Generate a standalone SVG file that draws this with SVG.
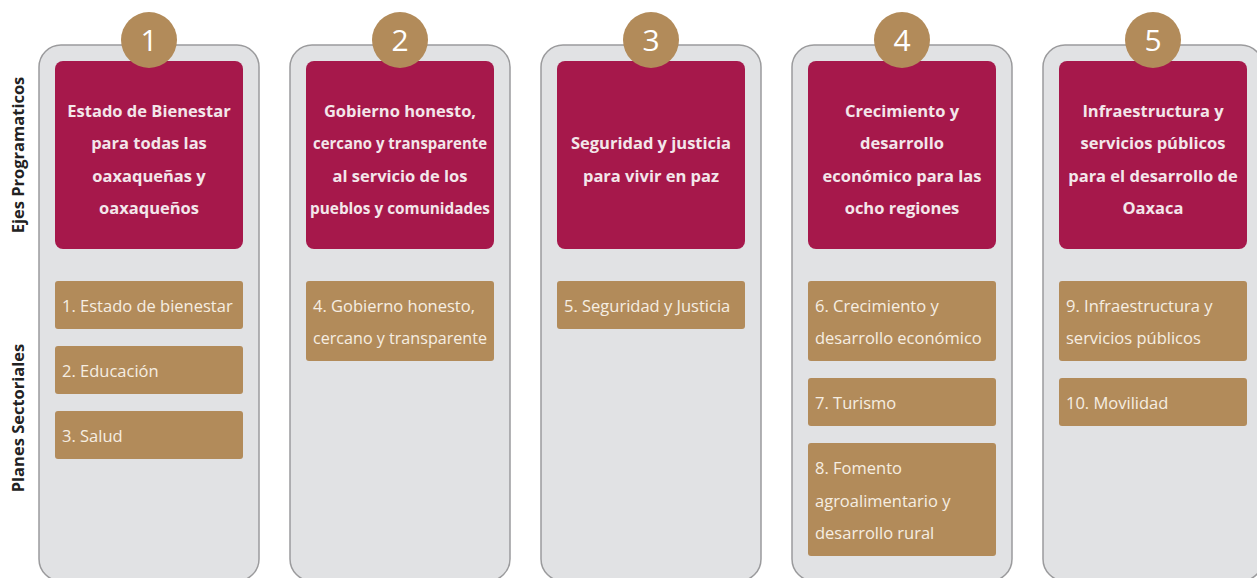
<svg xmlns="http://www.w3.org/2000/svg" width="1257" height="578" viewBox="0 0 1257 578">
<style>
.col{fill:#e1e2e4;stroke:#9b9b9d;stroke-width:1.5}
.eje{fill:#a6184b}
.plan{fill:#b28b5a}
.num{fill:#b28b5a}
.numt{font-family:"Open Sans",sans-serif;font-size:30px;fill:#ffffff;text-anchor:middle}
.et{font-family:"Open Sans",sans-serif;font-weight:bold;font-size:16.5px;fill:#f3e6ea;text-anchor:middle}
.pt{font-family:"Open Sans",sans-serif;font-size:16.5px;fill:#f6eee2}
.side{font-family:"Open Sans",sans-serif;font-weight:bold;font-size:16.5px;fill:#222;text-anchor:middle}
</style>
<rect width="1257" height="578" fill="#ffffff"/>
<g id="labels">
<text class="side" transform="translate(24,155) rotate(-90)">Ejes Programaticos</text>
<text class="side" transform="translate(24,418) rotate(-90)">Planes Sectoriales</text>
</g>
<g id="col1">
<rect class="col" x="39" y="45" width="220" height="536" rx="22"/>
<rect class="eje" x="55" y="61" width="188" height="188" rx="8"/>
<text class="et"><tspan x="149" y="117">Estado de Bienestar</tspan><tspan x="149" y="149">para todas las</tspan><tspan x="149" y="182">oaxaqueñas y</tspan><tspan x="149" y="214">oaxaqueños</tspan></text>
<rect class="plan" x="55" y="281" width="188" height="48" rx="3"/>
<text class="pt" x="62" y="312">1. Estado de bienestar</text>
<rect class="plan" x="55" y="346" width="188" height="48" rx="3"/>
<text class="pt" x="62" y="377">2. Educación</text>
<rect class="plan" x="55" y="411" width="188" height="48" rx="3"/>
<text class="pt" x="62" y="442">3. Salud</text>
<circle class="num" cx="149" cy="40" r="28"/>
<text class="numt" x="149" y="51">1</text>
</g>
<g id="col2">
<rect class="col" x="290" y="45" width="220" height="536" rx="22"/>
<rect class="eje" x="306" y="61" width="188" height="188" rx="8"/>
<text class="et"><tspan x="400" y="117">Gobierno honesto,</tspan><tspan x="400" y="149" textLength="174" lengthAdjust="spacingAndGlyphs">cercano y transparente</tspan><tspan x="400" y="182">al servicio de los</tspan><tspan x="400" y="214" textLength="180" lengthAdjust="spacingAndGlyphs">pueblos y comunidades</tspan></text>
<rect class="plan" x="306" y="281" width="188" height="80" rx="3"/>
<text class="pt"><tspan x="313" y="312">4. Gobierno honesto,</tspan><tspan x="313" y="344" textLength="174" lengthAdjust="spacingAndGlyphs">cercano y transparente</tspan></text>
<circle class="num" cx="400" cy="40" r="28"/>
<text class="numt" x="400" y="51">2</text>
</g>
<g id="col3">
<rect class="col" x="541" y="45" width="220" height="536" rx="22"/>
<rect class="eje" x="557" y="61" width="188" height="188" rx="8"/>
<text class="et"><tspan x="651" y="149">Seguridad y justicia</tspan><tspan x="651" y="182">para vivir en paz</tspan></text>
<rect class="plan" x="557" y="281" width="188" height="48" rx="3"/>
<text class="pt" x="564" y="312">5. Seguridad y Justicia</text>
<circle class="num" cx="651" cy="40" r="28"/>
<text class="numt" x="651" y="51">3</text>
</g>
<g id="col4">
<rect class="col" x="792" y="45" width="220" height="536" rx="22"/>
<rect class="eje" x="808" y="61" width="188" height="188" rx="8"/>
<text class="et"><tspan x="902" y="117">Crecimiento y</tspan><tspan x="902" y="149">desarrollo</tspan><tspan x="902" y="182">económico para las</tspan><tspan x="902" y="214">ocho regiones</tspan></text>
<rect class="plan" x="808" y="281" width="188" height="80" rx="3"/>
<text class="pt"><tspan x="815" y="312">6. Crecimiento y</tspan><tspan x="815" y="344">desarrollo económico</tspan></text>
<rect class="plan" x="808" y="378" width="188" height="48" rx="3"/>
<text class="pt" x="815" y="409">7. Turismo</text>
<rect class="plan" x="808" y="443" width="188" height="113" rx="3"/>
<text class="pt"><tspan x="815" y="474">8. Fomento</tspan><tspan x="815" y="507">agroalimentario y</tspan><tspan x="815" y="539">desarrollo rural</tspan></text>
<circle class="num" cx="902" cy="40" r="28"/>
<text class="numt" x="902" y="51">4</text>
</g>
<g id="col5">
<rect class="col" x="1043" y="45" width="220" height="536" rx="22"/>
<rect class="eje" x="1059" y="61" width="188" height="188" rx="8"/>
<text class="et"><tspan x="1153" y="117">Infraestructura y</tspan><tspan x="1153" y="149">servicios públicos</tspan><tspan x="1153" y="182">para el desarrollo de</tspan><tspan x="1153" y="214">Oaxaca</tspan></text>
<rect class="plan" x="1059" y="281" width="188" height="80" rx="3"/>
<text class="pt"><tspan x="1066" y="312">9. Infraestructura y</tspan><tspan x="1066" y="344">servicios públicos</tspan></text>
<rect class="plan" x="1059" y="378" width="188" height="48" rx="3"/>
<text class="pt" x="1066" y="409">10. Movilidad</text>
<circle class="num" cx="1153" cy="40" r="28"/>
<text class="numt" x="1153" y="51">5</text>
</g>
</svg>
